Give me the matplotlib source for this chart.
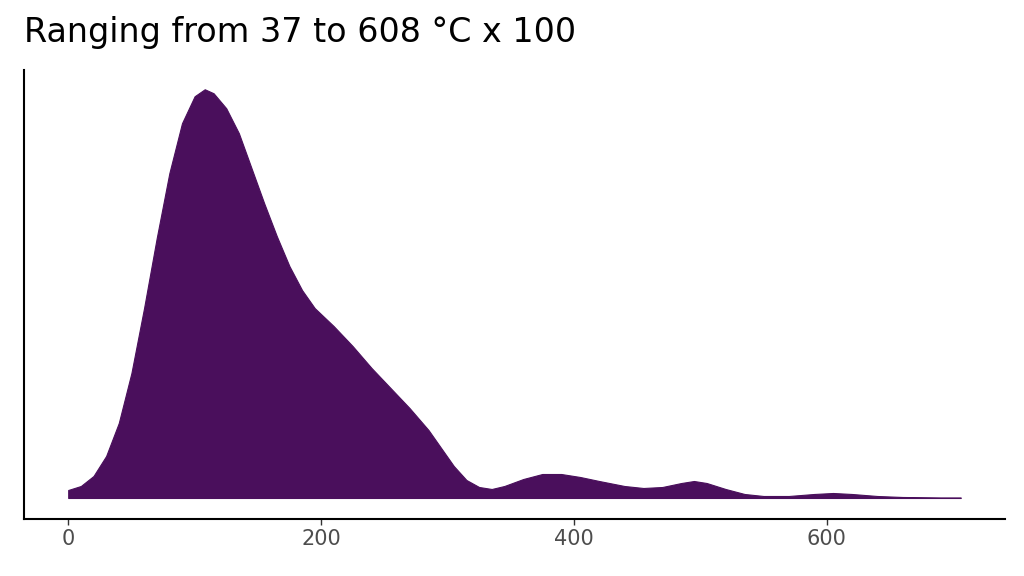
import matplotlib
matplotlib.use("Agg")
import matplotlib.pyplot as plt

temp = [0, 10, 20, 30, 40, 50, 60, 70, 80, 90, 100, 108, 115, 125, 135, 145, 155, 165, 175, 185, 195, 210, 225, 240, 255, 270, 285, 295, 305, 315, 325, 335, 345, 360, 375, 390, 405, 420, 440, 455, 470, 485, 495, 505, 520, 535, 550, 570, 590, 605, 620, 640, 660, 690, 706]
dens = [8, 12, 22, 42, 75, 125, 190, 260, 325, 375, 402, 409, 405, 390, 365, 330, 295, 262, 232, 208, 190, 172, 152, 130, 110, 90, 68, 50, 32, 18, 11, 9, 12, 19, 24, 24, 21, 17, 12, 10, 11, 15, 17, 15, 9, 4, 2, 2, 4, 5, 4, 2, 1, 0.5, 0.5]
ticks = [0, 200, 400, 600]
title = "Ranging from 37 to 608 °C x 100"

fig = plt.figure(figsize=(10.24, 5.76), dpi=100)
ax = fig.add_axes([0.0234, 0.099, 0.958, 0.779])
ax.fill_between(temp, 0, dens, color="#4a0f5c", lw=0.8, edgecolor="#4a0f5c")
ax.set_xlim(-35, 741)
ax.set_ylim(-21, 428)
ax.set_xticks(ticks)
ax.set_xticklabels([str(t) for t in ticks], color="#4d4d4d", fontsize=15)
ax.set_yticks([])
for s in ["top", "right"]:
    ax.spines[s].set_visible(False)
for s in ["left", "bottom"]:
    ax.spines[s].set_linewidth(1.5)
ax.tick_params(axis="x", length=4, width=1, color="#333333")
fig.text(0.0234, 0.915, title, fontsize=24, ha="left", va="bottom")
fig.savefig("out.png", dpi=100)
